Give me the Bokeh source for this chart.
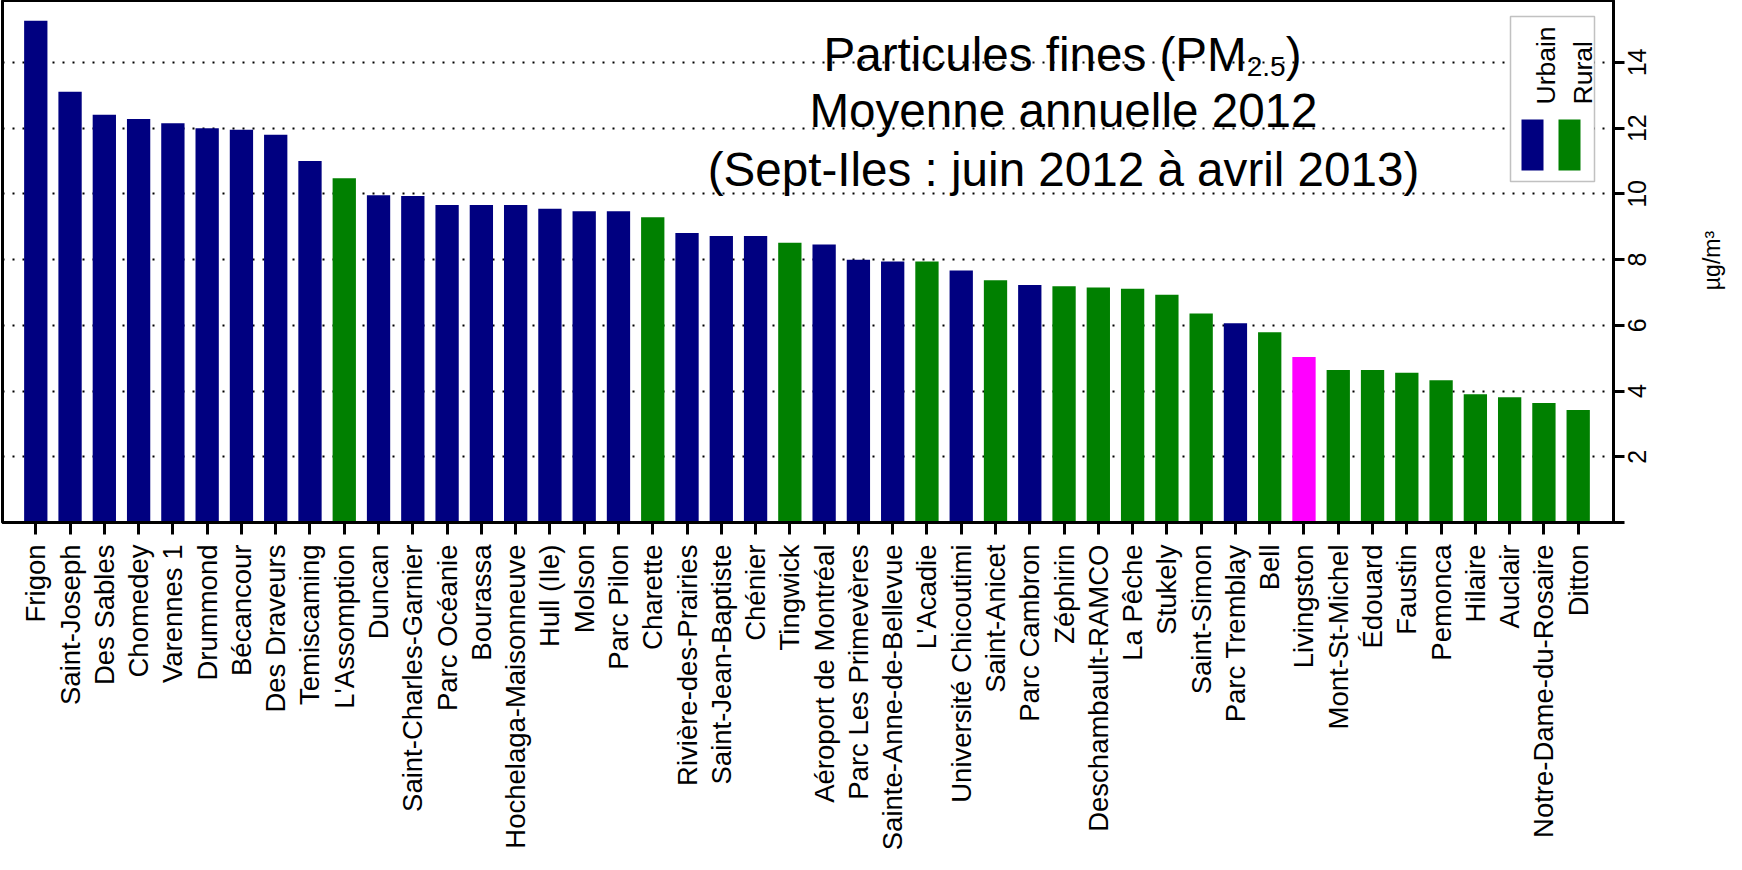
import math
from bokeh.plotting import figure
from bokeh.models import (ColumnDataSource, FixedTicker, Label, BoxAnnotation, Range1d,
                          LinearAxis)
from bokeh.embed import file_html
from bokeh.resources import INLINE

# ---------------- data ----------------
stations = [
    "Frigon", "Saint-Joseph", "Des Sables", "Chomedey", "Varennes 1", "Drummond",
    "Bécancour", "Des Draveurs", "Temiscaming", "L'Assomption", "Duncan",
    "Saint-Charles-Garnier", "Parc Océanie", "Bourassa", "Hochelaga-Maisonneuve",
    "Hull (Ile)", "Molson", "Parc Pilon", "Charette", "Rivière-des-Prairies",
    "Saint-Jean-Baptiste", "Chénier", "Tingwick", "Aéroport de Montréal",
    "Parc Les Primevères", "Sainte-Anne-de-Bellevue", "L'Acadie",
    "Université Chicoutimi", "Saint-Anicet", "Parc Cambron", "Zéphirin",
    "Deschambault-RAMCO", "La Pêche", "Stukely", "Saint-Simon", "Parc Tremblay",
    "Bell", "Livingston", "Mont-St-Michel", "Édouard", "Faustin", "Pemonca",
    "Hilaire", "Auclair", "Notre-Dame-du-Rosaire", "Ditton",
]
values = [
    15.27, 13.11, 12.41, 12.28, 12.15, 12.00,
    11.95, 11.80, 11.00, 10.48, 9.96,
    9.94, 9.66, 9.66, 9.66,
    9.55, 9.47, 9.47, 9.29, 8.81,
    8.72, 8.72, 8.51, 8.46,
    8.00, 7.94, 7.94,
    7.67, 7.37, 7.23, 7.19,
    7.15, 7.11, 6.93, 6.36, 6.06,
    5.79, 5.04, 4.64, 4.64, 4.56, 4.33,
    3.90, 3.81, 3.64, 3.42,
]
types = [
    "Urbain", "Urbain", "Urbain", "Urbain", "Urbain", "Urbain",
    "Urbain", "Urbain", "Urbain", "Rural", "Urbain",
    "Urbain", "Urbain", "Urbain", "Urbain",
    "Urbain", "Urbain", "Urbain", "Rural", "Urbain",
    "Urbain", "Urbain", "Rural", "Urbain",
    "Urbain", "Urbain", "Rural",
    "Urbain", "Rural", "Urbain", "Rural",
    "Rural", "Rural", "Rural", "Rural", "Urbain",
    "Rural", "Autre", "Rural", "Rural", "Rural", "Rural",
    "Rural", "Rural", "Rural", "Rural",
]
legend_labels = ["Urbain", "Rural"]
y_ticks = [0, 2, 4, 6, 8, 10, 12, 14]
grid_ticks = [2, 4, 6, 8, 10, 12, 14]
title_main = "Particules fines (PM"
title_sub = "2.5"
title_close = ")"
title_line2 = "Moyenne annuelle 2012"
title_line3 = "(Sept-Iles : juin 2012 à avril 2013)"
y_label = "µg/m³"

COLORS = {"Urbain": "#000080", "Rural": "#008000", "Autre": "#FF00FF"}
FONT = "Liberation Sans"

# ---------------- layout ----------------
FRAME_W, FRAME_H = 1611, 522
X_START, X_END = 0.029, 47.03
Y_END = 15.886
PAGE_LEFT, PAGE_BOTTOM = 10, 530
PX_X = FRAME_W / (X_END - X_START)
PX_Y = FRAME_H / Y_END
RIGHT_BORDER = 112
TICK_FONT = 25
UNIT_FONT = 23


def px2x(px):
    return X_START + (px - PAGE_LEFT) / PX_X


def px2y(py):
    return (PAGE_BOTTOM - py) / PX_Y


xs = list(range(1, len(stations) + 1))
source = ColumnDataSource(dict(
    x=xs, val=values, name=stations, color=[COLORS[t] for t in types]))

# rotated tick texts start at their anchor: shift a label axis by one digit width
digit = 0.556 * TICK_FONT / PX_Y
unit_len = 2.577 * UNIT_FONT
unit_pos = px2y(268 + unit_len / 2)
unit_tick = 8
p = figure(frame_width=FRAME_W, frame_height=FRAME_H,
           x_range=Range1d(X_START, X_END), y_range=Range1d(0, Y_END),
           y_axis_location="right", output_backend="svg", toolbar_location=None,
           min_border_left=2, min_border_top=0, min_border_right=RIGHT_BORDER,
           min_border_bottom=10)
p.extra_y_ranges = {
    "labels": Range1d(digit, Y_END + digit),
    "unit": Range1d(unit_tick - unit_pos, Y_END + unit_tick - unit_pos),
}
p.background_fill_color = "white"
p.border_fill_color = "white"
p.outline_line_color = "black"
p.outline_line_width = 3

p.vbar(x="x", top="val", width=0.68, fill_color="color", line_color=None,
       source=source)

# grid
p.xgrid.visible = False
p.ygrid.ticker = FixedTicker(ticks=grid_ticks)
p.ygrid.grid_line_color = "black"
p.ygrid.grid_line_width = 2
p.ygrid.grid_line_dash = "2 8"

# x axis
xa = p.xaxis[0]
xa.ticker = FixedTicker(ticks=xs)
xa.major_label_overrides = {i: s for i, s in zip(xs, stations)}
xa.major_label_orientation = math.pi / 2
xa.major_label_text_font = FONT
xa.major_label_text_font_size = "27.5px"
xa.major_label_text_color = "black"
xa.major_label_standoff = 10
xa.major_tick_out = 12
xa.major_tick_in = 0
xa.major_tick_line_width = 3
xa.major_tick_line_color = "black"
xa.minor_tick_line_color = None
xa.axis_line_width = 3
xa.axis_line_color = "black"

# y axis (right): ticks only
ya = p.yaxis[0]
ya.ticker = FixedTicker(ticks=y_ticks)
ya.major_label_overrides = {t: "" for t in y_ticks}
ya.major_label_text_font_size = "0px"
ya.major_label_standoff = 0
ya.major_tick_out = 11
ya.major_tick_in = 0
ya.major_tick_line_width = 3
ya.major_tick_line_color = "black"
ya.minor_tick_line_color = None
ya.axis_line_width = 3
ya.axis_line_color = "black"

# y tick labels (rotated, reading upward, centred on the ticks)
ax_lab = LinearAxis(y_range_name="labels", ticker=FixedTicker(ticks=y_ticks),
                    bounds=(-0.5, 15.0))
ax_lab.major_label_overrides = {t: (str(t) if t >= 10 else "\u2008" + str(t))
                                for t in y_ticks}
ax_lab.major_label_orientation = math.pi / 2
ax_lab.major_label_text_font = FONT
ax_lab.major_label_text_font_size = f"{TICK_FONT}px"
ax_lab.major_label_text_color = "black"
ax_lab.major_label_standoff = 13
ax_lab.major_tick_in = 0
ax_lab.major_tick_out = 0
ax_lab.major_tick_line_color = None
ax_lab.minor_tick_line_color = None
ax_lab.axis_line_color = None
p.add_layout(ax_lab, "right")

# y axis title, drawn as the single label of a further axis
ax_unit = LinearAxis(y_range_name="unit", ticker=FixedTicker(ticks=[unit_tick]))
ax_unit.major_label_overrides = {unit_tick: y_label}
ax_unit.major_label_orientation = math.pi / 2
ax_unit.major_label_text_font = FONT
ax_unit.major_label_text_font_size = f"{UNIT_FONT}px"
ax_unit.major_label_text_color = "black"
ax_unit.major_label_standoff = 44
ax_unit.major_tick_in = 0
ax_unit.major_tick_out = 0
ax_unit.major_tick_line_color = None
ax_unit.minor_tick_line_color = None
ax_unit.axis_line_color = None
p.add_layout(ax_unit, "right")

# title
TF = 47.6
SF = 28.0
w_main = 8.891 * TF
w_sub = 1.39 * SF
x0 = 831
p.add_layout(Label(x=px2x(x0), y=px2y(61.7), text=title_main, text_align="left",
                   text_baseline="alphabetic", text_font=FONT,
                   text_font_size=f"{TF}px", text_color="black"))
p.add_layout(Label(x=px2x(x0 + w_main), y=px2y(74), text=title_sub, text_align="left",
                   text_baseline="alphabetic", text_font=FONT,
                   text_font_size=f"{SF}px", text_color="black"))
p.add_layout(Label(x=px2x(x0 + w_main + w_sub), y=px2y(61.7), text=title_close,
                   text_align="left", text_baseline="alphabetic", text_font=FONT,
                   text_font_size=f"{TF}px", text_color="black"))
p.add_layout(Label(x=px2x(1071), y=px2y(118.3), text=title_line2, text_align="center",
                   text_baseline="alphabetic", text_font=FONT,
                   text_font_size=f"{TF}px", text_color="black"))
p.add_layout(Label(x=px2x(1071), y=px2y(176.7), text=title_line3, text_align="center",
                   text_baseline="alphabetic", text_font=FONT,
                   text_font_size=f"{TF}px", text_color="black"))

# legend (vertical text)
p.add_layout(BoxAnnotation(left=px2x(1518), right=px2x(1602), top=px2y(24),
                           bottom=px2y(189), fill_color="white", fill_alpha=1.0,
                           line_color="#333333", line_width=1.5))
leg_swatch_left = [1529, 1566]
leg_text_x = [1553, 1590]
for lab, sl, tx in zip(legend_labels, leg_swatch_left, leg_text_x):
    p.add_layout(BoxAnnotation(left=px2x(sl), right=px2x(sl + 22), top=px2y(127),
                               bottom=px2y(178), fill_color=COLORS[lab], fill_alpha=1.0,
                               line_color=None))
    p.add_layout(Label(x=px2x(tx), y=px2y(112), text=lab, angle=math.pi / 2,
                       text_align="left", text_baseline="alphabetic",
                       text_font=FONT, text_font_size="26.5px", text_color="black"))

open("out.html", "w").write(file_html(p, INLINE))
